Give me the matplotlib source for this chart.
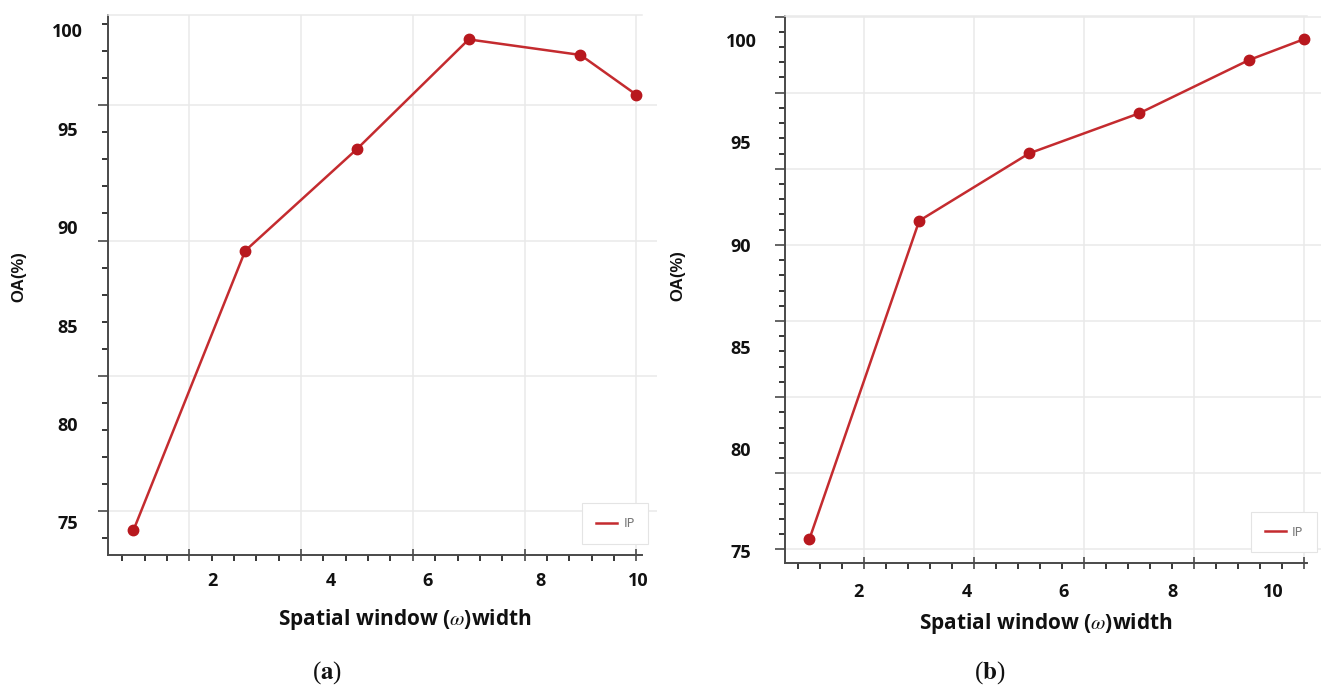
import numpy as np
import matplotlib.pyplot as plt
from matplotlib.transforms import blended_transform_factory

plt.rcParams['mathtext.fontset'] = 'stix'

# spatial window width vs overall accuracy, two experiments
width = [1, 3, 5, 7, 9, 10]
oa_a = [74.70, 88.90, 94.07, 99.64, 98.85, 96.83]
oa_b = [75.66, 91.26, 94.56, 96.52, 99.13, 100.15]

y_labels = [75, 80, 85, 90, 95, 100]
x_labels = ['2', '4', '6', '8', '10']
series_name = 'IP'

LINE = '#c42b2f'
DOT = '#b8181e'
TICK = '#4a4a4a'
GRID = '#e9e9e9'
LABEL_FONT = ['Open Sans', 'DejaVu Sans']

fig = plt.figure(figsize=(13.21, 6.87), dpi=100)


def px(x, y):
    return x / 1321, 1 - y / 687


def panel(rect, oa, xlim, x_end, ylim, grid0, grid_step, xlab_pos,
          ylab_x, xlab_y, legend_xy):
    ax = fig.add_axes(rect)
    ax.set_xlim(*xlim)
    ax.set_ylim(*ylim)

    ax.plot(width, oa, color=LINE, lw=1.8, label=series_name, zorder=3)
    ax.plot(width, oa, ls='none', marker='o', ms=7.5, color=DOT, zorder=4)

    # ticks and grid (tick labels are drawn separately, they sit off the ticks)
    ax.set_xticks([2, 4, 6, 8, 10])
    ax.set_xticks(np.arange(0.8, x_end, 0.4), minor=True)
    ygrid = np.arange(grid0, ylim[1] + 0.1, grid_step)
    ax.set_yticks(ygrid)
    ax.set_yticks(np.arange(grid0 - grid_step / 5, ylim[1], grid_step / 5), minor=True)
    ax.set_ylim(*ylim)
    ax.tick_params(labelleft=False, labelbottom=False, colors=TICK)
    ax.tick_params(axis='x', which='major', direction='inout', length=9, width=1.2)
    ax.tick_params(axis='x', which='minor', direction='out', length=4, width=1.1)
    ax.tick_params(axis='y', which='major', direction='out', length=7, width=1.2)
    ax.tick_params(axis='y', which='minor', direction='out', length=4, width=1.1)
    ax.grid(True, which='major', color=GRID, lw=1.1)
    ax.set_axisbelow(True)

    for side in ['left', 'bottom']:
        ax.spines[side].set_color(TICK)
        ax.spines[side].set_linewidth(1.4)
    ax.spines['bottom'].set_bounds(xlim[0], x_end)
    ax.spines['right'].set_visible(False)
    ax.spines['top'].set_color(GRID)
    ax.spines['top'].set_linewidth(1.1)
    ax.spines['top'].set_bounds(xlim[0], x_end)

    ty = blended_transform_factory(ax.transAxes, ax.transData)
    for v in y_labels:
        ax.text(ylab_x, v, str(v), transform=ty, ha='center', va='center',
                fontsize=13, fontweight='bold', family=LABEL_FONT, color='#111')
    tx = blended_transform_factory(ax.transData, ax.transAxes)
    for pos, lab in zip(xlab_pos, x_labels):
        ax.text(pos, xlab_y, lab, transform=tx, ha='center', va='center',
                fontsize=13, fontweight='bold', family=LABEL_FONT, color='#111')

    leg = ax.legend(loc='upper left', bbox_to_anchor=legend_xy, borderaxespad=0,
                    fancybox=False, framealpha=1, edgecolor='#e4e4e4',
                    handlelength=1.7, handletextpad=0.5, borderpad=1.1,
                    prop=dict(family='DejaVu Sans', size=9))
    leg.get_frame().set_linewidth(0.8)
    for t in leg.get_texts():
        t.set_color('#777')
    return ax


r = px(108, 555)
panel([r[0], r[1], 549 / 1321, 540 / 687], oa_a,
      xlim=(0.544, 10.37), x_end=10.1, ylim=(73.44, 100.88),
      grid0=75.68, grid_step=6.87,
      xlab_pos=[2.41, 4.54, 6.27, 8.28, 10.04],
      ylab_x=-0.074, xlab_y=-0.048, legend_xy=(0.864, 0.096))

r = px(785, 563.3)
panel([r[0], r[1], 536 / 1321, 547.6 / 687], oa_b,
      xlim=(0.558, 10.31), x_end=10.05, ylim=(74.49, 101.30),
      grid0=75.17, grid_step=3.727,
      xlab_pos=[1.90, 3.87, 5.62, 7.61, 9.44],
      ylab_x=-0.082, xlab_y=-0.053, legend_xy=(0.869, 0.094))

xlabel = r'Spatial window ($\omega$)width'
for (x, y) in [(405, 620), (1045.5, 623)]:
    fig.text(*px(x, y), xlabel, ha='center', va='center', fontsize=15,
             fontweight='bold', family=LABEL_FONT, color='#111')

for (x, y) in [(18.5, 277), (677.7, 276)]:
    fig.text(*px(x, y), 'OA(%)', rotation=90, ha='center', va='center',
             fontsize=12, fontweight='bold', family='Liberation Sans', color='#111')

for (x, y), letter in zip([(327.5, 679), (990, 679)], ['a', 'b']):
    fig.text(*px(x, y), '(' + r'$\mathbf{' + letter + '}$' + ')', ha='center',
             va='baseline', fontsize=18, family='Liberation Serif', color='#111')

fig.savefig('out.png', dpi=100)
